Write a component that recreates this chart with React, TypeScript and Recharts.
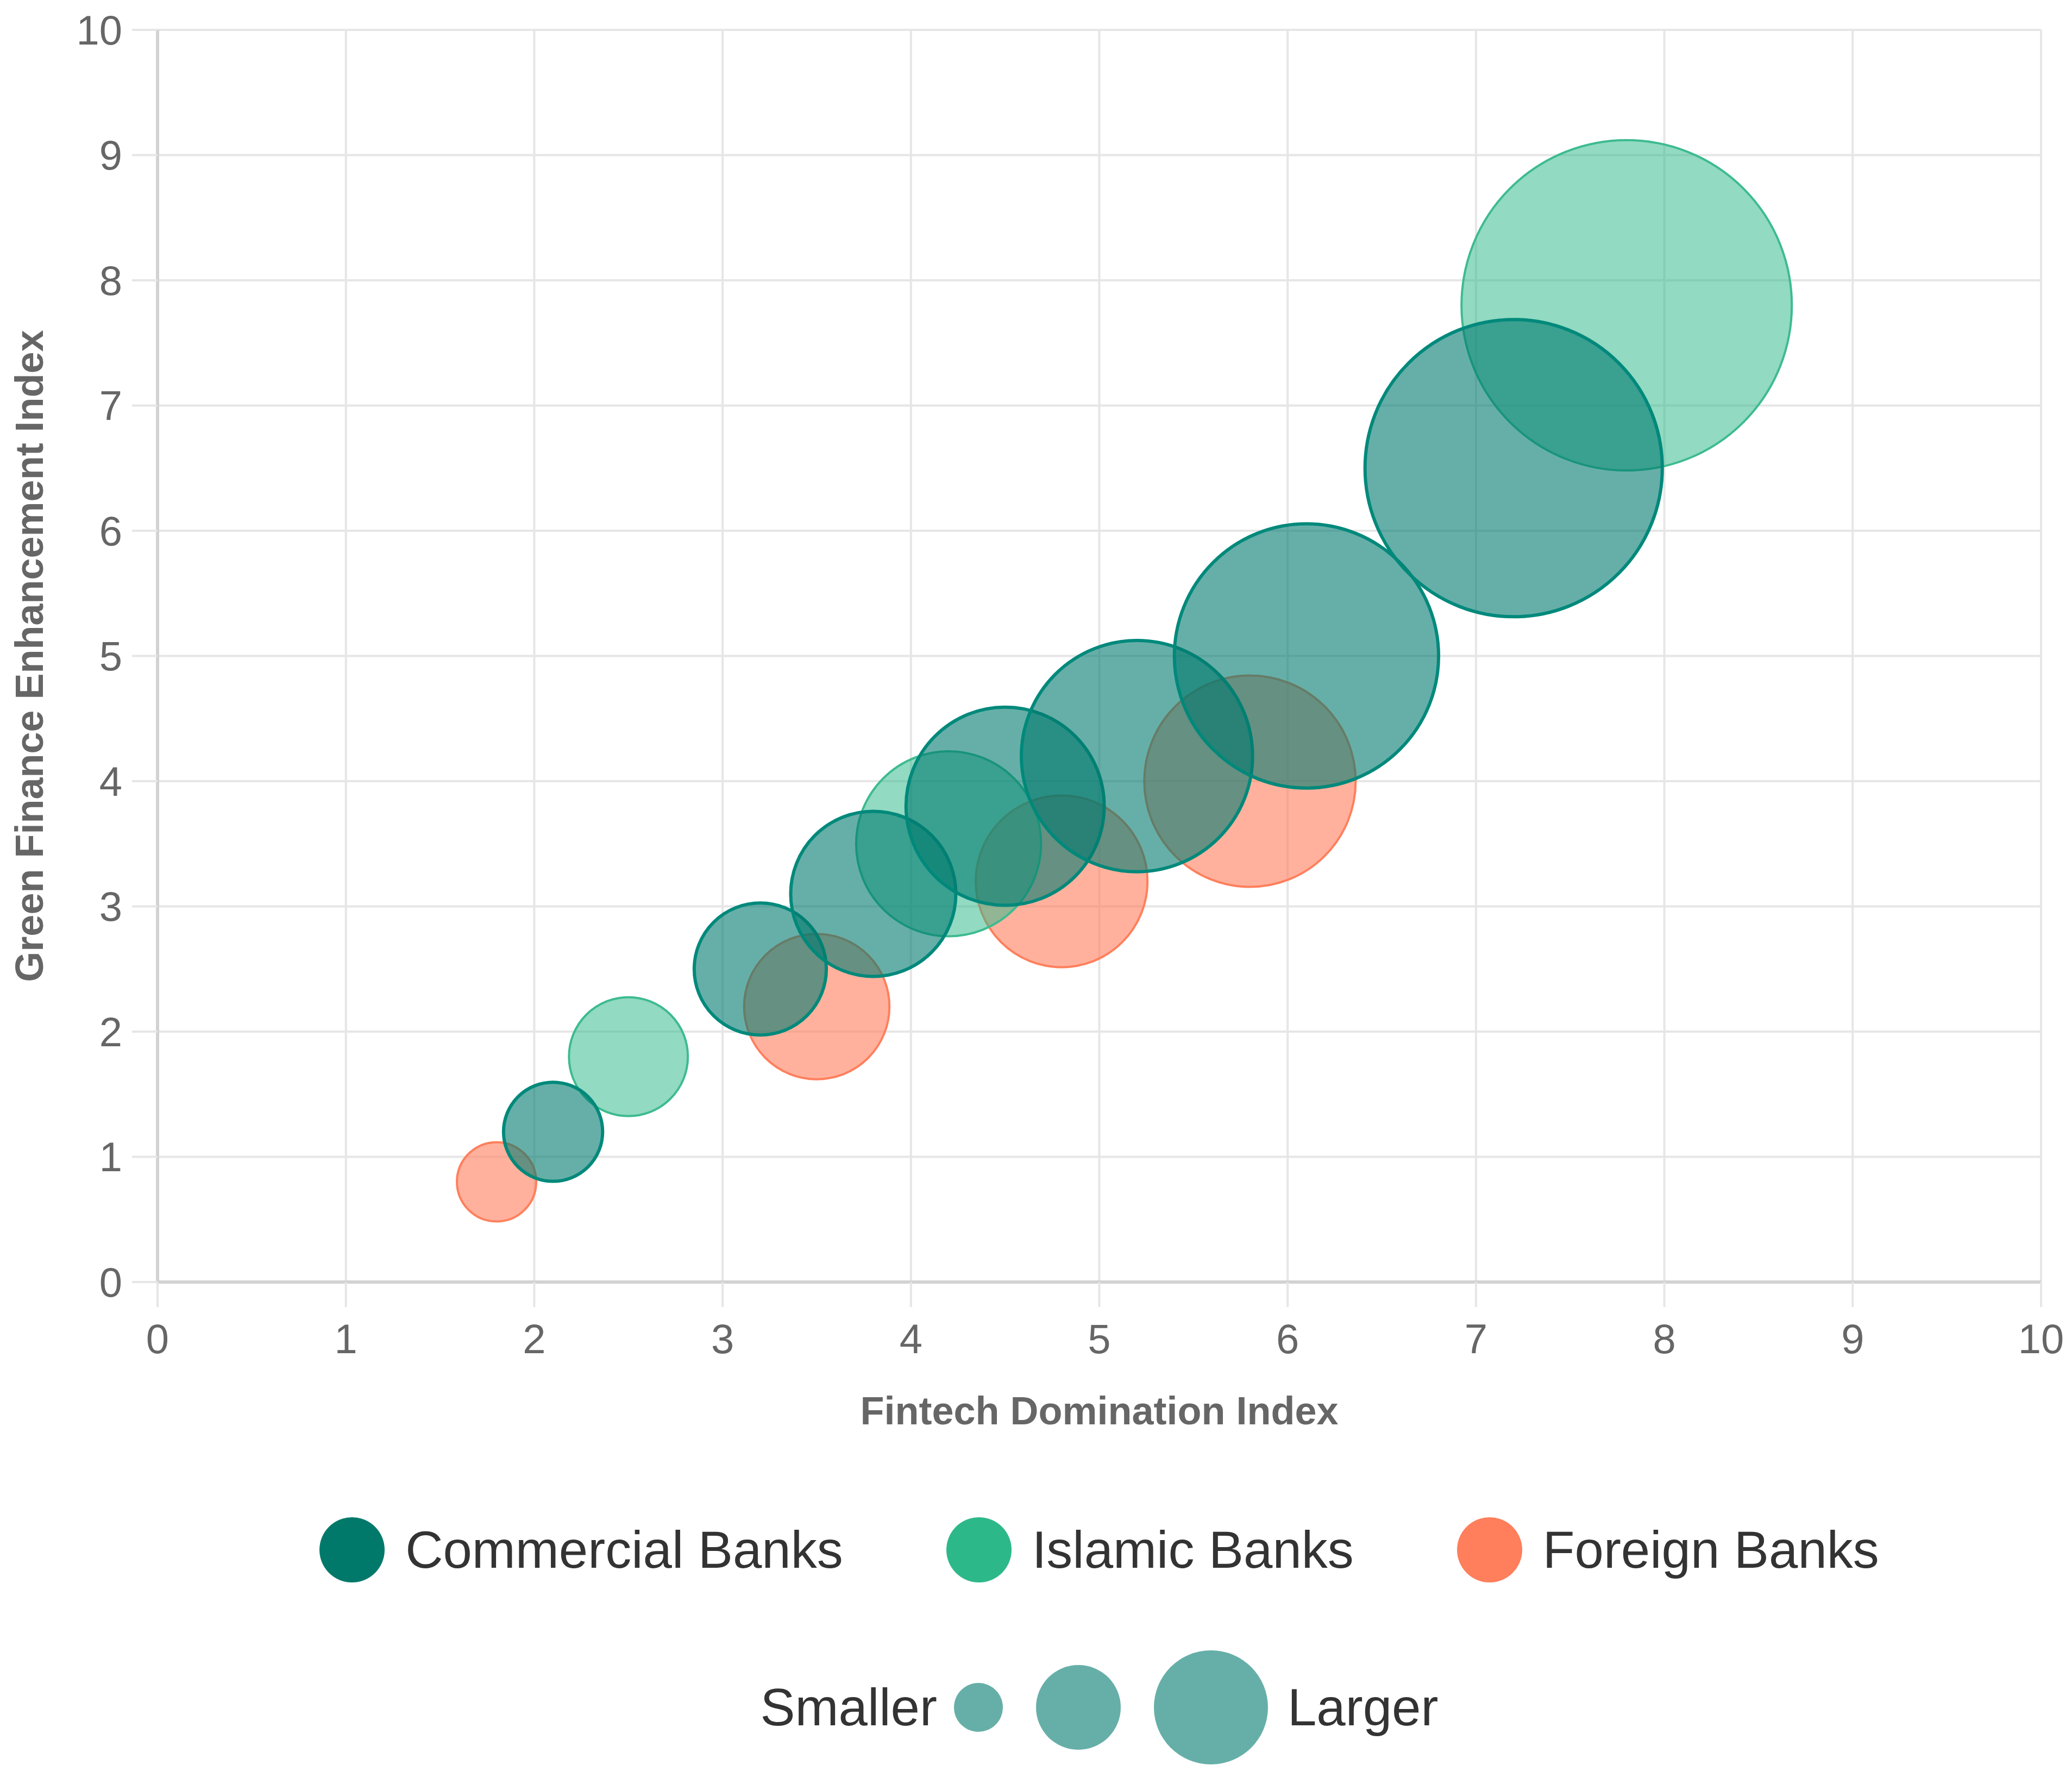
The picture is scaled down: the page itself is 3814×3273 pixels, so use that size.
import React from 'react';
import { ScatterChart, Scatter, XAxis, YAxis, ZAxis, CartesianGrid } from 'recharts';

// ---- data ----
const commercialX = [2.1, 3.2, 3.8, 4.5, 5.2, 6.1, 7.2];
const commercialY = [1.2, 2.5, 3.1, 3.8, 4.2, 5.0, 6.5];
const commercialR = [15, 20, 25, 30, 35, 40, 45];

const islamicX = [2.5, 4.2, 7.8];
const islamicY = [1.8, 3.5, 7.8];
const islamicR = [18, 28, 50];

const foreignX = [1.8, 3.5, 4.8, 5.8];
const foreignY = [0.8, 2.2, 3.2, 4.0];
const foreignR = [12, 22, 26, 32];

const axisTicks = [0, 1, 2, 3, 4, 5, 6, 7, 8, 9, 10];

const seriesNames = ['Commercial Banks', 'Islamic Banks', 'Foreign Banks'];
const legendColors = ['#00796B', '#2DB88A', '#FF7E5C'];
const sizeLegendLabels = ['Smaller', 'Larger'];
const sizeLegendDiameters = [90, 156, 210];

const commercialData = commercialX.map((x, i) => ({ x, y: commercialY[i], r: commercialR[i] }));
const islamicData = islamicX.map((x, i) => ({ x, y: islamicY[i], r: islamicR[i] }));
const foreignData = foreignX.map((x, i) => ({ x, y: foreignY[i], r: foreignR[i] }));

const FONT = '"Liberation Sans", Arial, Helvetica, sans-serif';
const GRID = '#e6e6e6';
const AXIS = '#d2d2d2';

const makeBubble = (fill: string, stroke: string, sw: number) => (props: any) => {
  const { cx, cy, size, width } = props;
  let r = typeof size === 'number' ? size : 0;
  if (!(r > 0) && typeof width === 'number') {
    const area = Math.PI * (width / 2) * (width / 2);
    r = area;
  }
  return <circle cx={cx} cy={cy} r={r} fill={fill} stroke={stroke} strokeWidth={sw} />;
};

const commercialShape = makeBubble('rgba(0,122,110,0.6)', '#00897B', 6);
const islamicShape = makeBubble('rgba(46,184,138,0.52)', '#3DBB8F', 4);
const foreignShape = makeBubble('rgba(255,125,92,0.6)', '#FF7F5C', 4);

const XTitle = (props: any) => {
  const vb = props.viewBox || {};
  return (
    <text
      x={vb.x + vb.width / 2}
      y={vb.y + 237}
      textAnchor="middle"
      dominantBaseline="central"
      fill="#666"
      fontFamily={FONT}
      fontSize={72}
      fontWeight="bold"
    >
      Fintech Domination Index
    </text>
  );
};

const YTitle = (props: any) => {
  const vb = props.viewBox || {};
  const x = vb.x + 54;
  const y = vb.y + vb.height / 2;
  return (
    <text
      x={x}
      y={y}
      transform={`rotate(-90, ${x}, ${y})`}
      textAnchor="middle"
      dominantBaseline="central"
      fill="#666"
      fontFamily={FONT}
      fontSize={72}
      fontWeight="bold"
    >
      Green Finance Enhancement Index
    </text>
  );
};

export default function App() {
  return (
    <div
      style={{
        position: 'absolute',
        left: 0,
        top: 0,
        width: 3814,
        height: 3273,
        background: '#fff',
        fontFamily: FONT,
      }}
    >
      <ScatterChart width={3814} height={2700} margin={{ top: 55, right: 57, left: 0, bottom: 0 }}>
        <CartesianGrid stroke={GRID} strokeWidth={4} />
        <XAxis
          type="number"
          dataKey="x"
          domain={[0, 10]}
          ticks={axisTicks}
          interval={0}
          height={340}
          tick={{ fill: '#666', fontSize: 76, fontFamily: FONT }}
          tickSize={46}
          tickMargin={31}
          tickLine={{ stroke: GRID, strokeWidth: 4 }}
          axisLine={{ stroke: AXIS, strokeWidth: 6 }}
          label={{ content: XTitle }}
        />
        <YAxis
          type="number"
          dataKey="y"
          domain={[0, 10]}
          ticks={axisTicks}
          interval={0}
          width={290}
          tick={{ fill: '#666', fontSize: 76, fontFamily: FONT }}
          tickSize={47}
          tickMargin={18}
          tickLine={{ stroke: GRID, strokeWidth: 4 }}
          axisLine={{ stroke: AXIS, strokeWidth: 6 }}
          label={{ content: YTitle }}
        />
        <ZAxis type="number" dataKey="r" domain={[0, 50]} range={[0, 304]} />
        <Scatter name={seriesNames[2]} data={foreignData} shape={foreignShape} isAnimationActive={false} />
        <Scatter name={seriesNames[1]} data={islamicData} shape={islamicShape} isAnimationActive={false} />
        <Scatter name={seriesNames[0]} data={commercialData} shape={commercialShape} isAnimationActive={false} />
      </ScatterChart>

      {/* series legend */}
      <div
        style={{
          position: 'absolute',
          left: 290,
          width: 3467,
          top: 2793,
          height: 120,
          display: 'flex',
          alignItems: 'center',
          justifyContent: 'center',
        }}
      >
        {seriesNames.map((name, i) => (
          <div
            key={name}
            style={{ display: 'flex', alignItems: 'center', marginLeft: i === 0 ? 0 : 190 }}
          >
            <div
              style={{
                width: 120,
                height: 120,
                borderRadius: '50%',
                background: legendColors[i],
              }}
            />
            <span style={{ marginLeft: 38, fontSize: 96, color: '#333', whiteSpace: 'nowrap' }}>{name}</span>
          </div>
        ))}
      </div>

      {/* size legend */}
      <div
        style={{
          position: 'absolute',
          left: 290,
          width: 3467,
          top: 3033,
          height: 220,
          display: 'flex',
          alignItems: 'center',
          justifyContent: 'center',
        }}
      >
        <span style={{ fontSize: 96, color: '#333', marginRight: 31 }}>{sizeLegendLabels[0]}</span>
        {sizeLegendDiameters.map((d, i) => (
          <div
            key={d}
            style={{
              width: d,
              height: d,
              borderRadius: '50%',
              background: 'rgba(0,122,110,0.6)',
              marginLeft: i === 0 ? 0 : 61,
            }}
          />
        ))}
        <span style={{ fontSize: 96, color: '#333', marginLeft: 36 }}>{sizeLegendLabels[1]}</span>
      </div>
    </div>
  );
}
